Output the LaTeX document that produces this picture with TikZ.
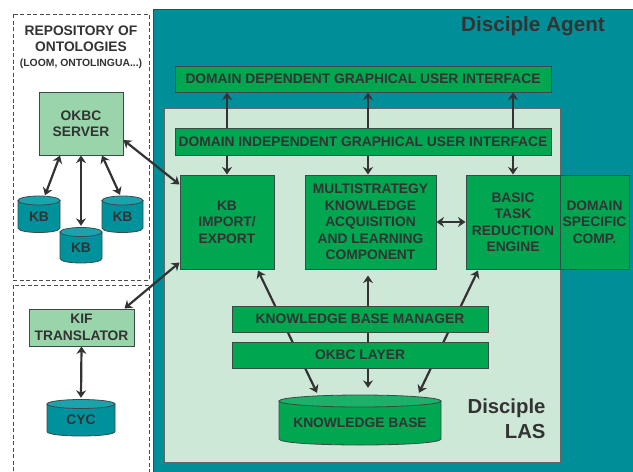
\documentclass[tikz,border=0pt]{standalone}
\usepackage{fontspec}
\setmainfont{Liberation Sans}
\usetikzlibrary{arrows.meta,calc}
\definecolor{tealbg}{HTML}{008F99}
\definecolor{dgreen}{HTML}{00A650}
\definecolor{lgreen}{HTML}{CDE8D7}
\definecolor{mgreen}{HTML}{99D4AB}
\definecolor{cylbody}{HTML}{00929C}
\definecolor{cyltop}{HTML}{1AA3AD}
\definecolor{kbbody}{HTML}{00A650}
\definecolor{kbtop}{HTML}{1DB068}
\definecolor{txt}{HTML}{333333}
\definecolor{bd}{HTML}{3A4A48}
\definecolor{arrc}{HTML}{333333}
\newcommand\mycyl[9]{%
  \path[fill=#7,draw=bd,line width=0.8pt] (#2,#4) -- (#2,#5) .. controls (#2,{#5+1.333*#6}) and (#3,{#5+1.333*#6}) .. (#3,#5) -- (#3,#4) -- cycle;
  \path[fill=#8,draw=bd,line width=0.8pt] ({(#2+#3)/2},#4) ellipse [x radius={(#3-#2)/2}, y radius=#6];
  \node[inner sep=0pt,minimum width={(#3-#2)*1pt},minimum height={(#5+#6-#4)*1pt}] (#1) at ({(#2+#3)/2},{(#4+#5+#6)/2}) {#9};
}
\begin{document}
\begin{tikzpicture}[x=1pt,y=-1pt,
  font=\bfseries\fontsize{13.8}{16.5}\selectfont, text=txt,
  gbox/.style={draw=bd,fill=dgreen,line width=1pt,inner sep=0pt,align=center,text=txt},
  lbox/.style={gbox,fill=mgreen},
  arrboth/.style={line width=2.2pt,draw=arrc,{Stealth[length=7.5pt,width=10pt,inset=2.5pt]}-{Stealth[length=7.5pt,width=10pt,inset=2.5pt]}},
  arrone/.style={line width=2.2pt,draw=arrc,-{Stealth[length=7.5pt,width=10pt,inset=2.5pt]}},
  dashbox/.style={draw=black!70,line width=0.8pt,dash pattern=on 4pt off 2.5pt}]
\useasboundingbox (0,0) rectangle (633,472);
\fill[white] (0,0) rectangle (633,472);
% outer agent area
\path[fill=tealbg,draw=bd,line width=0.8pt] (153,9) rectangle (640,480);
% dashed repository boxes
\draw[dashbox] (13,14) rectangle (149,280);
\draw[dashbox] (13,285) rectangle (149,480);
% LAS area
\path[fill=lgreen,draw=black!60,line width=1pt] (164,108) rectangle (560,462);

\node[font=\bfseries\fontsize{20.7}{24}\selectfont] (agent) at (533,26) {Disciple Agent};
\node[font=\bfseries\fontsize{20.3}{25}\selectfont,align=right,anchor=east] (las) at (549,418.5) {Disciple\\LAS};

\node[align=center] (repo) at (81,47) {REPOSITORY OF\\ONTOLOGIES\\[-2pt]{\fontsize{10.4}{12}\selectfont (LOOM, ONTOLINGUA...)}};

\node[gbox,minimum width=376pt,minimum height=26pt] (ddgui) at (363,79) {DOMAIN DEPENDENT GRAPHICAL USER INTERFACE};
\node[gbox,minimum width=376pt,minimum height=27pt] (digui) at (363,141.5) {DOMAIN INDEPENDENT GRAPHICAL USER INTERFACE};
\node[gbox,minimum width=94pt,minimum height=94pt] (kbie) at (227,222) {KB\\IMPORT/\\EXPORT};
\node[gbox,minimum width=131pt,minimum height=94pt] (ms) at (370.5,222) {MULTISTRATEGY\\KNOWLEDGE\\ACQUISITION\\AND LEARNING\\COMPONENT};
\node[gbox,minimum width=94pt,minimum height=94pt] (btr) at (513,222) {BASIC\\TASK\\REDUCTION\\ENGINE};
\node[gbox,minimum width=69pt,minimum height=94pt] (dsc) at (594.5,222) {DOMAIN\\SPECIFIC\\COMP.};

\node[lbox,minimum width=84pt,minimum height=63pt] (okbc) at (81,123.5) {OKBC\\SERVER};
\node[lbox,minimum width=105pt,minimum height=37pt] (kif) at (81.5,327.5) {KIF\\TRANSLATOR};

\mycyl{kb1}{18}{60}{200.5}{228}{4.5}{cylbody}{cyltop}{KB}
\mycyl{kb3}{102}{143}{200.5}{228}{4.5}{cylbody}{cyltop}{KB}
\mycyl{kb2}{60}{102}{232}{258.5}{4.5}{cylbody}{cyltop}{KB}
\mycyl{cyc}{47}{115}{404}{431.5}{4.5}{cylbody}{cyltop}{CYC}
\mycyl{kbase}{279}{441}{401}{439}{6}{kbbody}{kbtop}{KNOWLEDGE BASE}

% arrows in the repository
\draw[arrboth] ([xshift=-21pt]okbc.south) -- ([xshift=6pt,yshift=5pt]kb1.north);
\draw[arrboth] (okbc.south) -- ([yshift=6pt]kb2.north);
\draw[arrboth] ([xshift=21pt]okbc.south) -- ([xshift=-2.5pt,yshift=5.5pt]kb3.north);
\draw[arrboth] (kif.south) -- ([yshift=6pt]cyc.north);
\draw[arrboth] ([yshift=-16.5pt]okbc.east) -- ([yshift=-10pt]kbie.north west);
\draw[arrboth] ([xshift=-10pt]kif.north east) -- ([yshift=7pt]kbie.south west);

% GUI arrows
\draw[arrone] ([xshift=-136pt]digui.north) -- ([xshift=-136pt]ddgui.south);
\draw[arrone] ([xshift=5pt]digui.north) -- ([xshift=5pt]ddgui.south);
\draw[arrone] ([xshift=150pt]digui.north) -- ([xshift=150pt]ddgui.south);
\draw[arrone] ([xshift=-136pt]digui.south) -- (kbie.north);
\draw[arrone] ([xshift=5pt]digui.south) -- ([xshift=-2.5pt]ms.north);
\draw[arrone] ([xshift=150pt]digui.south) -- (btr.north);
\draw[arrboth] (ms.east) -- (btr.west);

% knowledge base arrows (behind manager and layer)
\draw[arrboth] ([xshift=31pt,yshift=-1pt]kbie.south) -- ([xshift=-43pt,yshift=8pt]kbase.north);
\draw[arrboth] ([xshift=-2.5pt,yshift=-6pt]ms.south) -- ([xshift=8pt,yshift=13pt]kbase.north);
\draw[arrboth] ([xshift=-35pt,yshift=-1pt]btr.south) -- ([xshift=59pt,yshift=8pt]kbase.north);

\node[gbox,minimum width=256pt,minimum height=26pt] (kbm) at (360,319) {KNOWLEDGE BASE MANAGER};
\node[gbox,minimum width=256pt,minimum height=26pt] (okbcl) at (360,355) {OKBC LAYER};
\end{tikzpicture}
\end{document}
